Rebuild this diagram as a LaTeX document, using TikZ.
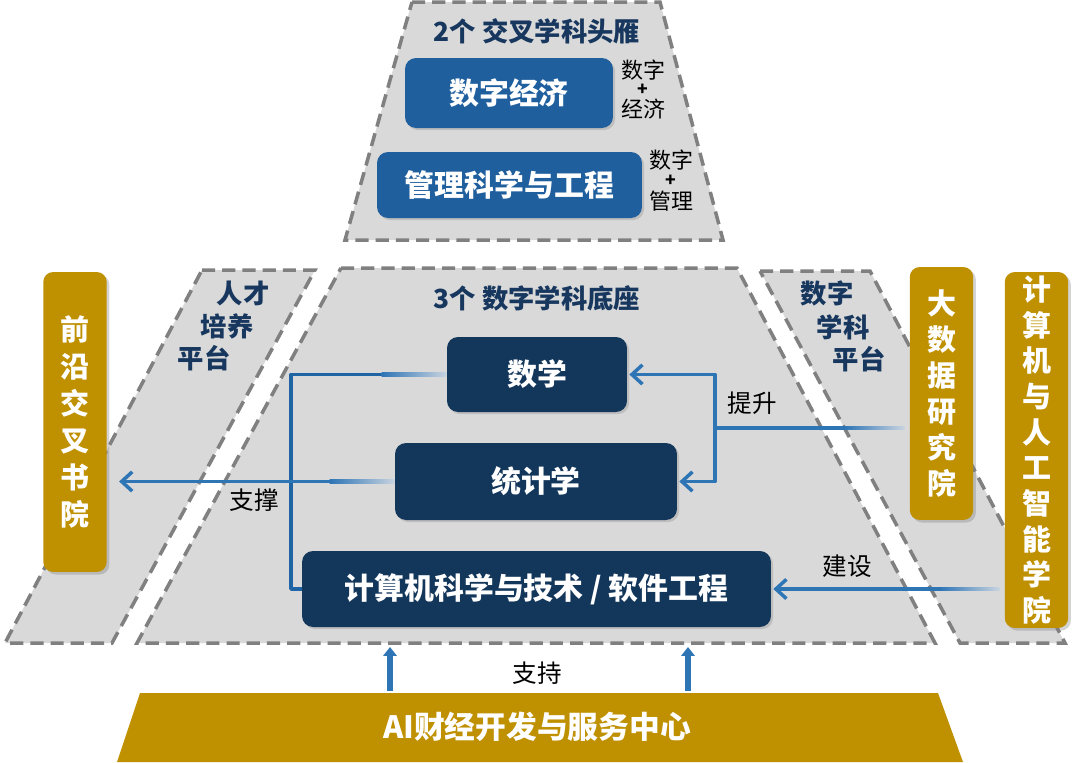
\documentclass[tikz,border=0pt]{standalone}
\usepackage{fontspec}
\newfontfamily\cjk{Noto Sans CJK SC}
\usetikzlibrary{arrows.meta,shadows,calc}
\definecolor{platgray}{RGB}{217,217,217}
\definecolor{dashgray}{RGB}{128,128,128}
\definecolor{midblue}{RGB}{31,95,158}
\definecolor{navy}{RGB}{19,54,91}
\definecolor{gold}{RGB}{191,144,0}
\definecolor{titleblue}{RGB}{23,55,94}
\definecolor{lineblue}{RGB}{46,117,182}
\definecolor{darkline}{RGB}{31,100,165}
\definecolor{fadeblue}{RGB}{200,211,223}
\begin{document}
\begin{tikzpicture}[x=0.02cm,y=-0.02cm,
  platform/.style={fill=platgray, draw=dashgray, line width=2pt, dash pattern=on 7.5pt off 4pt},
  bluebox/.style={fill=midblue, rounded corners=0.22cm, text=white, inner sep=0pt,
    font=\cjk\bfseries\fontsize{17}{20}\selectfont,
    drop shadow={opacity=0.3,shadow xshift=1.2pt,shadow yshift=-1.2pt}},
  navybox/.style={bluebox, fill=navy},
  goldbox/.style={fill=gold, rounded corners=0.2cm, text=white, inner sep=0pt, align=center,
    minimum width=1.27cm,
    drop shadow={opacity=0.35,shadow xshift=1.5pt,shadow yshift=-1.5pt}},
  vtext/.style={font=\cjk\bfseries\fontsize{16.5}{21}\selectfont},
  titletext/.style={text=titleblue, font=\cjk\bfseries\fontsize{15}{18}\selectfont, inner sep=0pt},
  smalllabel/.style={text=black, font=\cjk\fontsize{12.5}{14}\selectfont, inner sep=0pt},
  plustext/.style={text=black, font=\cjk\bfseries\fontsize{10}{11}\selectfont, inner sep=0pt},
  edgelabel/.style={text=black, font=\cjk\fontsize{14}{16}\selectfont, inner sep=0pt},
  conn/.style={draw=lineblue, line width=2pt},
  connarrow/.style={conn, -{Straight Barb[length=6pt,width=11pt]}},
  fadeseg/.style={left color=lineblue, right color=fadeblue},
  supparrow/.style={draw=lineblue, line width=3.4pt, -{Triangle[length=5pt,width=7.5pt]}}
]
\useasboundingbox (0,0) rectangle (1080,762);

% platforms
\path[platform] (412,2) -- (660,2) -- (723,240) -- (345,240) -- cycle;
\path[platform] (341,268) -- (737,268) -- (935,643) -- (137,643) -- cycle;
\path[platform] (202,270) -- (315,270) -- (112,643) -- (5,643) -- cycle;
\path[platform] (760,271) -- (870,271) -- (1065,643) -- (960,643) -- cycle;

% top section
\node[titletext] (toptitle) at (537,31) {2个 交叉学科头雁};
\node[bluebox, minimum width=4.16cm, minimum height=1.4cm] (szjj) at (509,93) {数字经济};
\node[bluebox, minimum width=5.3cm, minimum height=1.32cm] (glkx) at (509.5,185) {管理科学与工程};
\node[smalllabel] (l1a) at (643,70) {数字};
\node[plustext] (l1b) at (643,89.5) {+};
\node[smalllabel] (l1c) at (643,109) {经济};
\node[smalllabel] (l2a) at (671,160) {数字};
\node[plustext] (l2b) at (671,180.5) {+};
\node[smalllabel] (l2c) at (671,201) {管理};

% middle section titles
\node[titletext] (midtitle) at (537,298) {3个 数字学科底座};
\node[titletext] (rc1) at (243,293) {人才};
\node[titletext] (rc2) at (227,326) {培养};
\node[titletext] (rc3) at (204,358) {平台};
\node[titletext] (sz1) at (827,293) {数字};
\node[titletext] (sz2) at (843,327) {学科};
\node[titletext] (sz3) at (859,359) {平台};

% gold boxes
\node[goldbox, minimum height=6cm, vtext] (qianyan) at (75,422) {前\\沿\\交\\叉\\书\\院};
\node[goldbox, minimum height=5.06cm, vtext, font=\cjk\bfseries\fontsize{16.5}{20.6}\selectfont] (dsj) at (941.5,393.5) {大\\数\\据\\研\\究\\院};
\node[goldbox, minimum height=7.12cm, vtext, font=\cjk\bfseries\fontsize{16.5}{20.3}\selectfont] (jsjxy) at (1036.5,450) {计\\算\\机\\与\\人\\工\\智\\能\\学\\院};

% navy boxes
\node[navybox, minimum width=3.6cm, minimum height=1.5cm] (shuxue) at (537,374.5) {数学};
\node[navybox, minimum width=5.64cm, minimum height=1.54cm] (tongji) at (536,481.5) {统计学};
\node[navybox, minimum width=9.38cm, minimum height=1.52cm] (comp) at (536.5,589) {计算机科学与技术 / 软件工程};

% left bracket and support arrow
\coordinate (lb) at (291,374.5);
\draw[conn, draw=darkline, line join=round] (shuxue.west) -- (lb) |- (comp.west);
\shade[fadeseg] ($(shuxue.west)+(-1.3cm,-1pt)$) rectangle ($(shuxue.west)+(0,1pt)$);
\draw[connarrow, shorten >=0.24cm] (tongji.west) -- (qianyan.east |- tongji.west);
\shade[fadeseg] ($(tongji.west)+(-1.3cm,-1pt)$) rectangle ($(tongji.west)+(0,1pt)$);
\node[edgelabel] (zc) at (254,500) {支撑};

% right bracket
\coordinate (rj) at (715,428);
\draw[conn, shorten <=0.1cm] (dsj.west |- rj) -- (rj);
\shade[fadeseg] ($(dsj.west |- rj)+(-1.3cm,-1pt)$) rectangle ($(dsj.west |- rj)+(-0.1cm,1pt)$);
\draw[connarrow, line join=round, shorten >=0.04cm] (rj) |- (shuxue.east);
\draw[connarrow, line join=round, shorten >=0.04cm] (rj) |- (tongji.east);
\node[edgelabel] (ts) at (752,403) {提升};

% build arrow
\draw[connarrow, shorten <=0.1cm, shorten >=0.04cm] (jsjxy.west |- comp.east) -- (comp.east);
\shade[fadeseg] ($(jsjxy.west |- comp.east)+(-1.3cm,-1pt)$) rectangle ($(jsjxy.west |- comp.east)+(-0.1cm,1pt)$);
\node[edgelabel] (js) at (847,566) {建设};

% bottom centre
\fill[gold] (140,693) -- (938,693) -- (963,762) -- (117,762) -- cycle;
\node[text=white, font=\cjk\bfseries\fontsize{17.5}{20}\selectfont, inner sep=0pt] (ai) at (537,727) {AI财经开发与服务中心};
\coordinate (s1) at (390,691);
\coordinate (s1t) at (390,647);
\coordinate (s2) at (688,691);
\coordinate (s2t) at (688,647);
\draw[supparrow] (s1) -- (s1t);
\draw[supparrow] (s2) -- (s2t);
\node[edgelabel] (zhichi) at (537,673) {支持};
\end{tikzpicture}
\end{document}
